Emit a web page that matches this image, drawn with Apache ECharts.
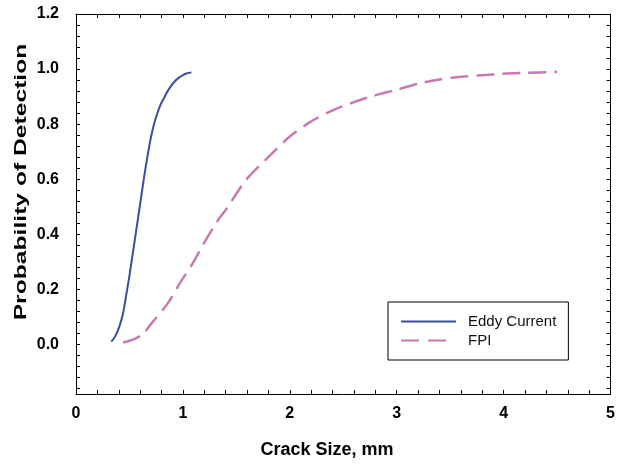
<!DOCTYPE html>
<html>
<head>
<meta charset="utf-8">
<script src="https://cdn.jsdelivr.net/npm/echarts@6/dist/echarts.min.js"></script>
<style>
  html, body { margin: 0; padding: 0; background: #fff; }
  #chart { width: 618px; height: 466px; }
</style>
</head>
<body>
<div id="chart"></div>
<script>
// ---- data ----
const eddyX = [0.33, 0.36, 0.38, 0.41, 0.44, 0.47, 0.50, 0.55, 0.60, 0.64, 0.69, 0.72, 0.75, 0.79, 0.83, 0.87, 0.92, 0.96, 1.00, 1.04, 1.08];
const eddyY = [0.01, 0.025, 0.04, 0.07, 0.113, 0.18, 0.25, 0.38, 0.51, 0.615, 0.73, 0.785, 0.827, 0.87, 0.90, 0.928, 0.954, 0.968, 0.978, 0.985, 0.988];

const fpiX = [0.44, 0.55, 0.63, 0.72, 0.86, 0.98, 1.10, 1.20, 1.34, 1.40, 1.59, 1.82, 2.00, 2.20, 2.40, 2.60, 2.80, 3.00, 3.20, 3.40, 3.60, 3.80, 4.00, 4.20, 4.50];
const fpiY = [0.007, 0.02, 0.04, 0.083, 0.15, 0.228, 0.30, 0.37, 0.458, 0.488, 0.597, 0.688, 0.755, 0.81, 0.85, 0.88, 0.905, 0.925, 0.947, 0.962, 0.972, 0.978, 0.983, 0.986, 0.99];

const seriesNames = ['Eddy Current', 'FPI'];
const yLabelValues = [0.0, 0.2, 0.4, 0.6, 0.8, 1.0, 1.2];
const yTickValues = [-0.16, -0.12, -0.08, -0.04, 0.0, 0.04, 0.08, 0.12, 0.16, 0.2, 0.24, 0.28, 0.32, 0.36, 0.4,
  0.44, 0.48, 0.52, 0.56, 0.6, 0.64, 0.68, 0.72, 0.76, 0.8, 0.84, 0.88, 0.92, 0.96, 1.0, 1.04, 1.08, 1.12, 1.16, 1.2];
const xTitle = 'Crack Size, mm';
const yTitle = 'Probability of Detection';

const FONT = '"Liberation Sans", Arial, sans-serif';

function zip(xs, ys) { return xs.map((x, i) => [x, ys[i]]); }

const axisLineStyle = { show: true, onZero: false, lineStyle: { color: '#000', width: 1 } };

function xAxisCfg(pos, showLabel) {
  return {
    type: 'value', position: pos, min: 0, max: 5, interval: 1,
    axisLine: axisLineStyle,
    axisTick: { show: true, inside: true, length: 4, lineStyle: { color: '#000' } },
    minorTick: { show: true, splitNumber: 5, length: 4, lineStyle: { color: '#000' } },
    splitLine: { show: false },
    axisLabel: {
      show: showLabel, margin: 12, color: '#000', fontFamily: FONT, fontWeight: 'bold', fontSize: 16,
      formatter: v => String(v)
    }
  };
}
function yAxisCfg(pos, showLabel) {
  return {
    type: 'value', position: pos, min: -0.18, max: 1.2, splitNumber: 7,
    axisLine: axisLineStyle,
    axisTick: { show: true, inside: true, length: 4, lineStyle: { color: '#000' }, customValues: yTickValues },
    minorTick: { show: false },
    splitLine: { show: false },
    axisLabel: {
      show: showLabel, margin: 17, color: '#000', fontFamily: FONT, fontWeight: 'bold', fontSize: 16,
      customValues: yLabelValues,
      formatter: v => (Math.abs(v / 0.2 - Math.round(v / 0.2)) < 1e-6 ? v.toFixed(1) : '')
    }
  };
}

const chart = echarts.init(document.getElementById('chart'), null, { renderer: 'canvas' });
chart.setOption({
  animation: false,
  backgroundColor: '#fff',
  grid: { left: 76, right: 5, top: 14, bottom: 72, containLabel: false },
  xAxis: [xAxisCfg('bottom', true), xAxisCfg('top', false)],
  yAxis: [yAxisCfg('left', true), yAxisCfg('right', false)],
  legend: {
    orient: 'vertical', left: 388, top: 302,
    data: [
      { name: seriesNames[0] },
      { name: seriesNames[1], lineStyle: { type: [18, 9, 18, 60] } }
    ],
    borderColor: '#000', borderWidth: 1, borderRadius: 0,
    padding: [12, 12, 12, 12],
    itemWidth: 55, itemHeight: 14, itemGap: 4,
    itemStyle: { opacity: 0 },
    textStyle: { fontFamily: FONT, fontSize: 15, color: '#111', padding: [0, 0, 0, 7] }
  },
  series: [
    {
      name: seriesNames[0], type: 'line', data: zip(eddyX, eddyY),
      smooth: 0.3, symbol: 'none', showSymbol: false,
      lineStyle: { color: '#3b4ea0', width: 2 }, itemStyle: { color: '#3b4ea0' }
    },
    {
      name: seriesNames[1], type: 'line', data: zip(fpiX, fpiY),
      smooth: 0.3, symbol: 'none', showSymbol: false,
      lineStyle: { color: '#c77ab2', width: 2.5, type: [18, 8] }, itemStyle: { color: '#c77ab2' }
    }
  ],
  graphic: [
    {
      type: 'text', x: 327, y: 450,
      style: { text: xTitle, font: 'bold 18px ' + FONT, fill: '#000', textAlign: 'center', textVerticalAlign: 'middle', align: 'center', verticalAlign: 'middle' }
    },
    {
      type: 'text', x: 21, y: 182, rotation: Math.PI / 2, scaleX: 1.45,
      style: { text: yTitle, font: 'bold 17px ' + FONT, fill: '#000', textAlign: 'center', textVerticalAlign: 'middle', align: 'center', verticalAlign: 'middle' }
    }
  ]
});
</script>
</body>
</html>
